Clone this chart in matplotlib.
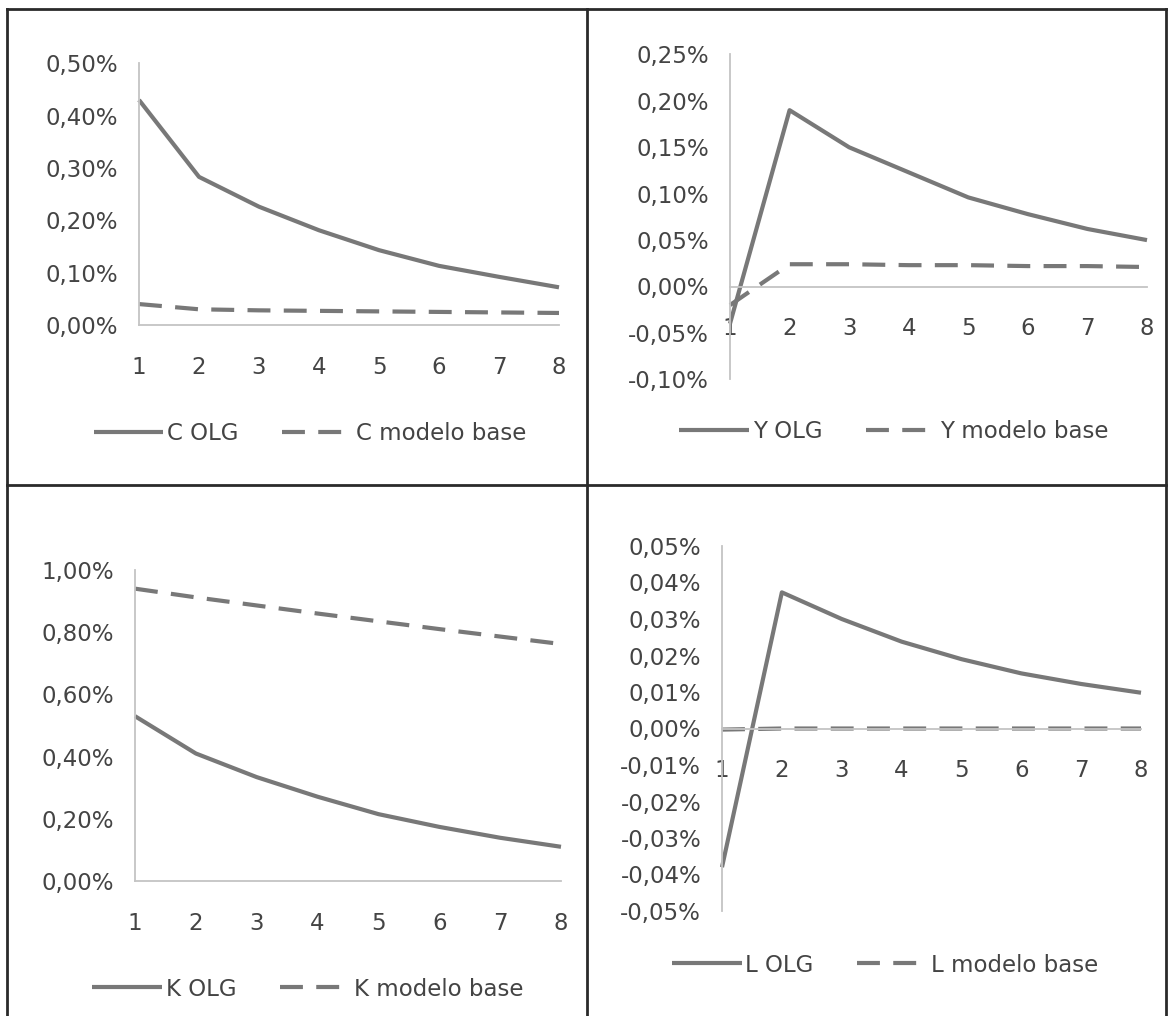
import matplotlib
matplotlib.use("Agg")
import matplotlib.pyplot as plt
from matplotlib.lines import Line2D
from matplotlib.ticker import FixedLocator, FuncFormatter

plt.rcParams['font.family'] = ['DejaVu Sans']

periods = [1, 2, 3, 4, 5, 6, 7, 8]

c_olg = [0.430, 0.283, 0.226, 0.181, 0.143, 0.113, 0.092, 0.072]
c_base = [0.040, 0.030, 0.028, 0.027, 0.026, 0.025, 0.024, 0.023]

y_olg = [-0.040, 0.190, 0.150, 0.123, 0.096, 0.078, 0.062, 0.050]
y_base = [-0.020, 0.024, 0.024, 0.023, 0.023, 0.022, 0.022, 0.021]

k_olg = [0.530, 0.410, 0.334, 0.271, 0.215, 0.174, 0.139, 0.110]
k_base = [0.940, 0.912, 0.886, 0.860, 0.835, 0.810, 0.786, 0.762]

l_olg = [-0.038, 0.0373, 0.0300, 0.0238, 0.0190, 0.0151, 0.0122, 0.0098]
l_base = [-0.0003, 0.0, 0.0, 0.0, 0.0, 0.0, 0.0, 0.0]

c_ticks = [0.0, 0.1, 0.2, 0.3, 0.4, 0.5]
y_ticks = [-0.10, -0.05, 0.0, 0.05, 0.10, 0.15, 0.20, 0.25]
k_ticks = [0.0, 0.2, 0.4, 0.6, 0.8, 1.0]
l_ticks = [-0.05, -0.04, -0.03, -0.02, -0.01, 0.0, 0.01, 0.02, 0.03, 0.04, 0.05]

labels = [("C OLG", "C modelo base"), ("Y OLG", "Y modelo base"),
          ("K OLG", "K modelo base"), ("L OLG", "L modelo base")]

W, H = 1168, 1016
fig = plt.figure(figsize=(W / 100, H / 100), dpi=100)

LINE_C = '#787878'
AX_C = '#c4c4c4'
TXT_C = '#444444'
FS = 16.5


def px_axes(left, right, top, bottom):
    return fig.add_axes([left / W, 1 - bottom / H, (right - left) / W, (bottom - top) / H])


def fmt(v, pos):
    return f"{v:.2f}%".replace('.', ',')


panels = [
    (px_axes(139, 559, 63.3, 325), c_olg, c_base, c_ticks, labels[0], (310, 434)),
    (px_axes(730, 1147, 54.5, 379.3), y_olg, y_base, y_ticks, labels[1], (894, 432)),
    (px_axes(135, 561, 570, 881), k_olg, k_base, k_ticks, labels[2], (308, 989)),
    (px_axes(722, 1141, 546, 911), l_olg, l_base, l_ticks, labels[3], (885, 965)),
]

for ax, olg, base, yt, (lab1, lab2), (lx, ly) in panels:
    ax.set_facecolor('none')
    l1, = ax.plot(periods, olg, color=LINE_C, lw=3.0, solid_capstyle='butt',
                  solid_joinstyle='round', clip_on=False, label=lab1)
    l2, = ax.plot(periods, base, color=LINE_C, lw=3.0, ls=(0, (5.5, 3.2)), dash_capstyle='butt',
                  clip_on=False, label=lab2)
    ax.set_xlim(1, 8)
    ax.set_ylim(yt[0], yt[-1])
    ax.yaxis.set_major_locator(FixedLocator(yt))
    ax.yaxis.set_major_formatter(FuncFormatter(fmt))
    ax.set_xticks(periods)
    ax.set_xticklabels([str(p) for p in periods])
    for s in ['top', 'right']:
        ax.spines[s].set_visible(False)
    ax.spines['bottom'].set_position(('data', 0))
    ax.spines['left'].set_color(AX_C)
    ax.spines['bottom'].set_color(AX_C)
    ax.spines['left'].set_linewidth(1.3)
    ax.spines['bottom'].set_linewidth(1.3)
    ax.tick_params(axis='both', length=0, labelsize=FS, colors=TXT_C)
    ax.tick_params(axis='y', pad=15)
    ax.tick_params(axis='x', pad=22)
    leg = ax.legend(handles=[l1, l2], loc='center', bbox_to_anchor=(lx / W, 1 - ly / H),
                    bbox_transform=fig.transFigure, ncol=2, frameon=False, fontsize=FS,
                    handlelength=3.05, handletextpad=0.17, columnspacing=1.9, borderpad=0)
    for t in leg.get_texts():
        t.set_color(TXT_C)

# panel frame lines
frame_col = '#2a2a2a'
lw_frame = 2.0
for (x0, y0, x1, y1) in [(7, 9, 1166, 9), (7, 9, 7, 1016), (1166, 9, 1166, 1016),
                         (587, 9, 587, 1016), (7, 485, 1166, 485)]:
    fig.add_artist(Line2D([x0 / W, x1 / W], [1 - y0 / H, 1 - y1 / H], transform=fig.transFigure,
                          color=frame_col, lw=lw_frame))

fig.savefig('out.png', dpi=100, facecolor='white')
